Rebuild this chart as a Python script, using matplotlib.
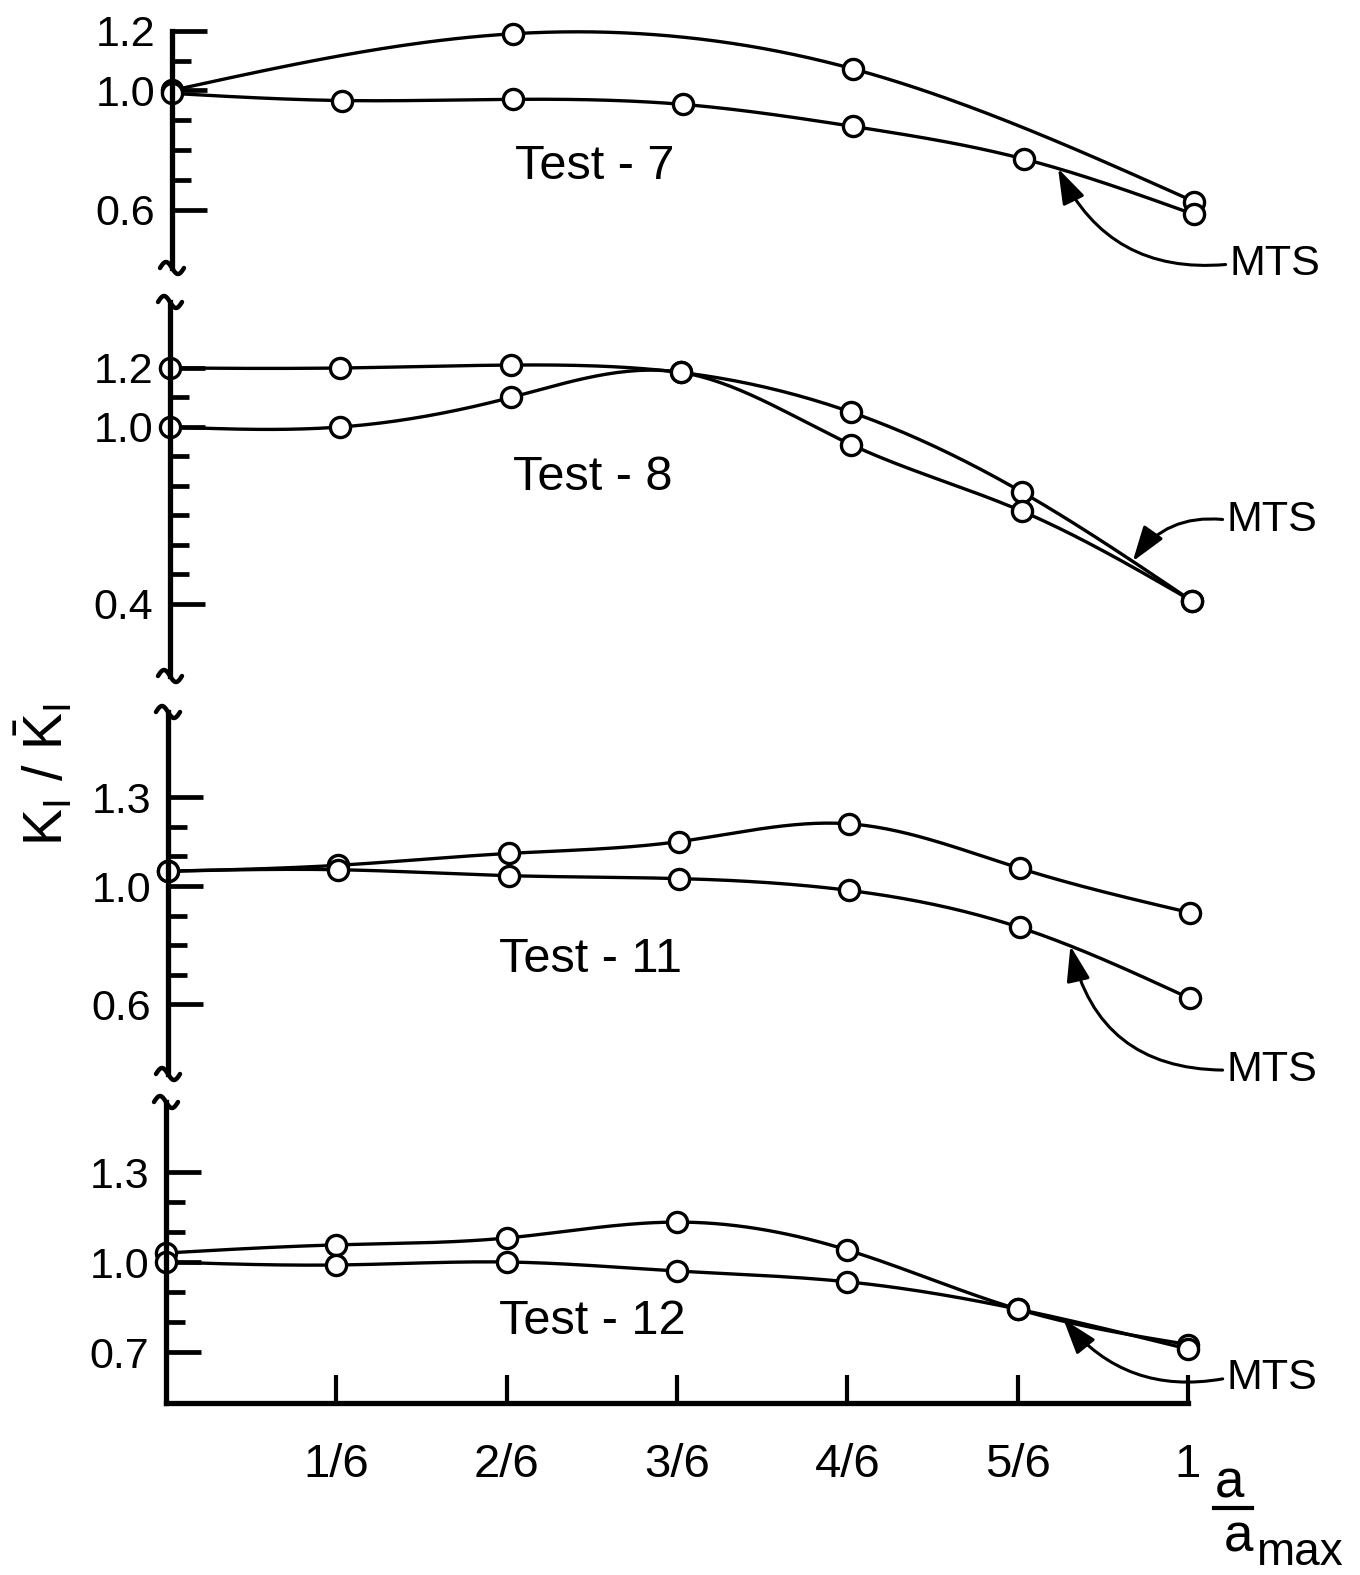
import numpy as np
import matplotlib
matplotlib.use("Agg")
import matplotlib.pyplot as plt
from matplotlib.lines import Line2D

plt.rcParams['font.family'] = ['Liberation Sans', 'DejaVu Sans']
plt.rcParams['mathtext.fontset'] = 'custom'
plt.rcParams['mathtext.rm'] = 'Liberation Sans'
plt.rcParams['mathtext.it'] = 'Liberation Sans:italic'

W, H = 1360, 1575

# a / a_max positions
x_all = [0, 1/6, 2/6, 3/6, 4/6, 5/6, 1]
x_even = [0, 2/6, 4/6, 1]
x_ticks = [1/6, 2/6, 3/6, 4/6, 5/6, 1]
x_ticklabels = ['1/6', '2/6', '3/6', '4/6', '5/6', '1']

# Test - 7
t7_other = [1.00, 1.19, 1.072, 0.627]
t7_mts = [0.99, 0.966, 0.97, 0.953, 0.879, 0.77, 0.584]
# Test - 8
t8_mts = [1.20, 1.20, 1.21, 1.185, 1.05, 0.78, 0.41]
t8_other = [1.00, 1.00, 1.10, 1.185, 0.94, 0.715, 0.41]
# Test - 11
t11_other = [1.05, 1.07, 1.11, 1.15, 1.21, 1.06, 0.91]
t11_mts = [1.05, 1.055, 1.035, 1.025, 0.985, 0.86, 0.62]
# Test - 12
t12_other = [1.03, 1.057, 1.08, 1.133, 1.04, 0.843, 0.725]
t12_mts = [1.00, 0.99, 1.00, 0.97, 0.934, 0.843, 0.71]

# y ticks per panel
t7_major = [1.2, 1.0, 0.6]
t7_minor = [1.1, 0.9, 0.8, 0.7]
t8_major = [1.2, 1.0, 0.4]
t8_minor = [1.1, 0.9, 0.8, 0.7, 0.6, 0.5]
t11_major = [1.3, 1.0, 0.6]
t11_minor = [1.2, 1.1, 0.9, 0.8, 0.7]
t12_major = [1.3, 1.0, 0.7]
t12_minor = [1.2, 1.1, 0.9, 0.8]

panels = [
    dict(title='Test - 7', curves=[(x_even, t7_other), (x_all, t7_mts)], mts=1,
         major=t7_major, minor=t7_minor, shift=6, ref=90.4, k=298, top=23.4, bot=268,
         spine_top=1.2, arrow_x=0.867, text_xy=(0.414, 0.746), mts_xy=(1.035, 0.417), rad=-0.35),
    dict(title='Test - 8', curves=[(x_all, t8_mts), (x_all, t8_other)], mts=0,
         major=t8_major, minor=t8_minor, shift=4, ref=427, k=295, top=302, bot=676,
         spine_top=None, arrow_x=0.942, text_xy=(0.414, 0.83), mts_xy=(1.034, 0.685), rad=0.3),
    dict(title='Test - 11', curves=[(x_all, t11_other), (x_all, t11_mts)], mts=1,
         major=t11_major, minor=t11_minor, shift=2, ref=886, k=296, top=712, bot=1074,
         spine_top=None, arrow_x=0.883, text_xy=(0.413, 0.753), mts_xy=(1.036, 0.378), rad=-0.4),
    dict(title='Test - 12', curves=[(x_all, t12_other), (x_all, t12_mts)], mts=1,
         major=t12_major, minor=t12_minor, shift=0, ref=1262, k=300, top=1102, bot=1403,
         spine_top=None, arrow_x=0.878, text_xy=(0.417, 0.803), mts_xy=(1.038, 0.613), rad=-0.3),
]


def smooth(xs, ys, n=200):
    # natural cubic spline through the measured points (drawing only)
    xs = np.asarray(xs, float)
    ys = np.asarray(ys, float)
    m = len(xs)
    h = np.diff(xs)
    A = np.zeros((m, m))
    b = np.zeros(m)
    A[0, 0] = A[-1, -1] = 1
    for i in range(1, m - 1):
        A[i, i - 1] = h[i - 1]
        A[i, i] = 2 * (h[i - 1] + h[i])
        A[i, i + 1] = h[i]
        b[i] = 6 * ((ys[i + 1] - ys[i]) / h[i] - (ys[i] - ys[i - 1]) / h[i - 1])
    M = np.linalg.solve(A, b)
    xx = np.linspace(xs[0], xs[-1], n)
    idx = np.clip(np.searchsorted(xs, xx) - 1, 0, m - 2)
    x0, x1 = xs[idx], xs[idx + 1]
    hh = x1 - x0
    t0, t1 = x1 - xx, xx - x0
    yy = (M[idx] * t0 ** 3 + M[idx + 1] * t1 ** 3) / (6 * hh) \
        + (ys[idx] / hh - M[idx] * hh / 6) * t0 + (ys[idx + 1] / hh - M[idx + 1] * hh / 6) * t1
    return xx, yy


def squiggle(ax, ypos, w_px, h_px):
    t = np.linspace(-1, 1, 40)
    ax.plot(t * 12 / w_px, ypos + (-6 * np.sin(np.pi * t)) / h_px,
            transform=ax.transAxes, color='black', lw=3.2, clip_on=False,
            solid_capstyle='round')


fig = plt.figure(figsize=(W / 100, H / 100), dpi=100)

n = len(panels)
for i, p in enumerate(panels):
    left_px = 166 + p['shift']
    hi = 1.0 + (p['ref'] - p['top']) / p['k']
    lo = 1.0 - (p['bot'] - p['ref']) / p['k']
    w_px = W - left_px
    h_px = p['bot'] - p['top']
    ax = fig.add_axes([left_px / W, 1 - p['bot'] / H, w_px / W, h_px / H])
    ax.set_xlim(0, w_px / 1022)
    ax.set_ylim(lo, hi)
    ax.patch.set_alpha(0)

    for xs, ys in p['curves']:
        xx, yy = smooth(xs, ys)
        ax.plot(xx, yy, color='black', lw=2.4, clip_on=False, zorder=2)
        ax.plot(xs, ys, 'o', ms=14.5, mfc='white', mec='black', mew=2.4,
                clip_on=False, zorder=2.2)

    for s in ['top', 'right']:
        ax.spines[s].set_visible(False)
    ax.spines['left'].set_linewidth(3.8)
    if p['spine_top'] is not None:
        ax.spines['left'].set_bounds(lo, p['spine_top'])

    ax.set_yticks(p['major'])
    ax.set_yticklabels(['%.1f' % v for v in p['major']])
    ax.set_yticks(p['minor'], minor=True)
    ax.tick_params(axis='y', which='major', direction='in', length=25, width=3.4,
                   labelsize=31, pad=12)
    ax.tick_params(axis='y', which='minor', direction='in', length=14, width=3.4)

    if i == n - 1:
        ax.spines['bottom'].set_linewidth(3.8)
        ax.spines['bottom'].set_bounds(0, 1)
        ax.set_xticks(x_ticks)
        ax.set_xticklabels(x_ticklabels)
        ax.tick_params(axis='x', direction='in', length=20, width=3.0,
                       labelsize=34, pad=29)
    else:
        ax.spines['bottom'].set_visible(False)
        ax.tick_params(axis='x', bottom=False, labelbottom=False)

    # axis break marks
    if i > 0:
        squiggle(ax, 1.0, w_px, h_px)
    if i < n - 1:
        squiggle(ax, 0.0, w_px, h_px)

    ax.text(p['text_xy'][0], p['text_xy'][1], p['title'], fontsize=35,
            ha='center', va='center')

    xs, ys = p['curves'][p['mts']]
    xx, yy = smooth(xs, ys)
    ya = np.interp(p['arrow_x'], xx, yy)
    ax.annotate('MTS', xy=(p['arrow_x'], ya), xytext=p['mts_xy'], fontsize=31,
                ha='left', va='center', annotation_clip=False,
                arrowprops=dict(arrowstyle='-|>,head_length=0.9,head_width=0.3',
                                connectionstyle='arc3,rad=%s' % p['rad'],
                                color='black', lw=2.2, relpos=(0, 0.5),
                                shrinkA=1, shrinkB=0, mutation_scale=24))

# y label
fig.text(45 / W, 1 - 775 / H, r'$\mathregular{K_I\ /\ \bar{K}_I}$', rotation=90,
         fontsize=40, ha='center', va='center')

# x label a / a_max
fig.text(1229 / W, 1 - 1484 / H, 'a', fontsize=38, ha='center', va='center')
fig.add_artist(Line2D([1214 / W, 1252 / W], [1 - 1508 / H] * 2, color='black', lw=3))
fig.text(1238 / W, 1 - 1538 / H, 'a', fontsize=38, ha='center', va='center')
fig.text(1256 / W, 1 - 1553 / H, 'max', fontsize=33, ha='left', va='center')

fig.savefig('out.png', dpi=100)
